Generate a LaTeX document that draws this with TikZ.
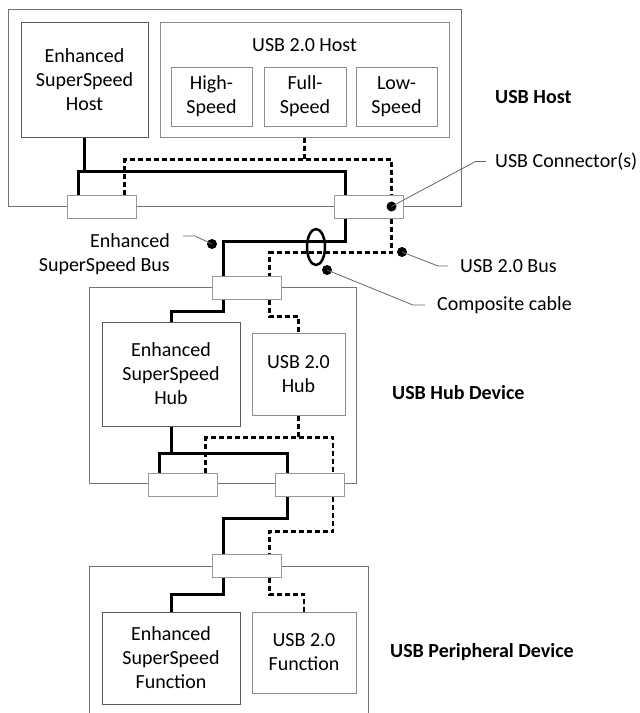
\documentclass[tikz,border=0pt]{standalone}
\usepackage{fontspec}
\setmainfont{Carlito}
\begin{document}
\begin{tikzpicture}[x=1pt, y=-1pt,
        device/.style={rectangle, draw=black!55, line width=1pt, inner sep=0pt},
        block/.style={rectangle, draw=black!65, line width=1pt, inner sep=0pt, align=center, font=\fontsize{20}{24}\selectfont},
        lblock/.style={block, draw=black!45},
        conn/.style={rectangle, draw=black!40, fill=white, line width=1pt, minimum width=69, minimum height=23, inner sep=0pt},
        ss/.style={line width=3pt},
        hs/.style={line width=2.5pt, dash pattern=on 5pt off 3pt},
        lead/.style={draw=black!60, line width=0.8pt},
        bdot/.style={circle, fill=black, minimum size=10pt, inner sep=0pt},
        txt/.style={font=\fontsize{20}{24}\selectfont, inner sep=0pt},
        devlabel/.style={font=\fontsize{20}{24}\selectfont\bfseries, inner sep=0pt, anchor=west}
    ]
        \useasboundingbox (0,0) rectangle (640,713);

        \node[device, minimum width=453, minimum height=197] (host) at (234.5,107.5) {};
        \node[device, minimum width=267, minimum height=196] (hub) at (222.5,385) {};
        \draw[draw=black!55, line width=1pt] (89,720) |- (368,566) -- (368,720);

        \node[block, minimum width=127, minimum height=115] (esshost) at (84.5,79.5) {Enhanced\\SuperSpeed\\Host};
        \node[lblock, minimum width=289, minimum height=115] (u2host) at (304.5,79.5) {};
        \node[txt] (u2hosttxt) at (304.5,45) {USB 2.0 Host};
        \node[lblock, minimum width=81, minimum height=59] (hsp) at (211.5,96.5) {High-\\Speed};
        \node[lblock, minimum width=82, minimum height=59] (fsp) at (305,96.5) {Full-\\Speed};
        \node[lblock, minimum width=81, minimum height=59] (lsp) at (396.5,96.5) {Low-\\Speed};

        \node[block, minimum width=138, minimum height=104] (esshub) at (171,374) {Enhanced\\SuperSpeed\\Hub};
        \node[lblock, minimum width=93, minimum height=82] (u2hub) at (298.5,374) {USB 2.0\\Hub};
        \node[block, minimum width=138, minimum height=92] (essfun) at (171,658) {Enhanced\\SuperSpeed\\Function};
        \node[lblock, minimum width=104, minimum height=81] (u2fun) at (304,652.5) {USB 2.0\\Function};

        \node[conn] (hcon1) at (101.5,206.5) {};
        \node[conn] (hcon2) at (368.5,206.5) {};
        \node[conn] (hubin) at (246.5,287.5) {};
        \node[conn] (hubout1) at (182.5,484.5) {};
        \node[conn] (hubout2) at (310,484.5) {};
        \node[conn] (pcon) at (246.5,565.5) {};

        \draw[ss] (esshost.south) -- ++(0,35);
        \draw[ss] ([xshift=-23pt]hcon1.north) -- ++(0,-23) -| ([xshift=-23pt]hcon2.north);
        \draw[hs] (u2host.south) -- ++(0,23);
        \draw[hs] ([xshift=23pt]hcon1.north) -- ++(0,-35) -| ([xshift=23pt]hcon2.north);

        \draw[ss] ([xshift=-23pt]hcon2.south) -- ++(0,23) -| ([xshift=-23pt]hubin.north);
        \draw[hs] ([xshift=23pt]hcon2.south) -- ++(0,34) -| ([xshift=23pt]hubin.north);

        \draw[ss] ([xshift=-23pt]hubin.south) -- ++(0,12) -| (esshub.north);
        \draw[hs] ([xshift=23pt]hubin.south) -- ++(0,17) -| (u2hub.north);
        \draw[ss] (esshub.south) -- ++(0,28);
        \draw[ss] ([xshift=-23pt]hubout1.north) -- ++(0,-19) -| ([xshift=-23pt]hubout2.north);
        \draw[hs] (u2hub.south) -- ++(0,23);
        \draw[hs] ([xshift=23pt]hubout1.north) -- ++(0,-35) -| ([xshift=23pt]hubout2.north);

        \draw[ss] ([xshift=-23pt]hubout2.south) -- ++(0,22) -| ([xshift=-23pt]pcon.north);
        \draw[hs] ([xshift=23pt]hubout2.south) -- ++(0,35) -| ([xshift=23pt]pcon.north);

        \draw[ss] ([xshift=-23pt]pcon.south) -- ++(0,17) -| (essfun.north);
        \draw[hs] ([xshift=23pt]pcon.south) -- ++(0,17) -| (u2fun.north);

        \draw[line width=2.5pt] (316,247) ellipse [x radius=9pt, y radius=18pt];

        \node[bdot] (condot) at ([xshift=23pt]hcon2.center) {};
        \node[bdot] (essdot) at (212,244) {};
        \node[bdot] (u2dot) at (402,252) {};
        \node[bdot] (cabdot) at (327,270) {};

        \node[txt, anchor=west, inner xsep=9pt] (conlbl) at (486,161.5) {USB Connector(s)};
        \node[txt, anchor=east, align=right, inner xsep=13pt] (esslbl) at (183,254) {Enhanced\\SuperSpeed Bus};
        \node[txt, anchor=west, inner xsep=12pt] (u2lbl) at (448,266) {USB 2.0 Bus};
        \node[txt, anchor=west, inner xsep=12pt] (cablbl) at (425,305) {Composite cable};

        \draw[lead] (condot.center) -- ++(84,-45) -- (conlbl.west);
        \draw[lead] (essdot.center) -- ++(-17,-8) -- ++(-12,0);
        \draw[lead] (u2dot.center) -- ++(36,14) -- (u2lbl.west);
        \draw[lead] (cabdot.center) -- ++(86,35) -- (cablbl.west);

        \node[devlabel] (hostlbl) at (495,97) {USB Host};
        \node[devlabel] (hublbl) at (392,393) {USB Hub Device};
        \node[devlabel] (perlbl) at (390,652) {USB Peripheral Device};
    \end{tikzpicture}
\end{document}
